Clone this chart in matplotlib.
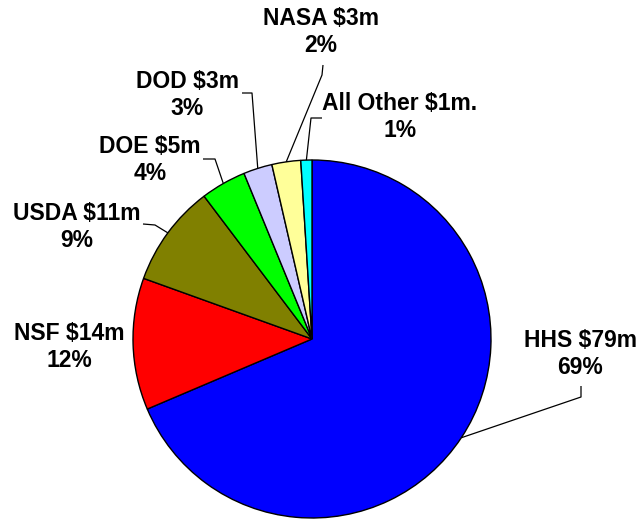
import numpy as np
import matplotlib
matplotlib.use("Agg")
import matplotlib.pyplot as plt

# Data (share of funding, %)
agencies = ["HHS", "NSF", "USDA", "DOE", "DOD", "NASA", "All Other"]
amounts = ["$79m", "$14m", "$11m", "$5m", "$3m", "$3m", "$1m."]
shares = [68.6, 11.9, 9.2, 4.1, 2.6, 2.6, 1.0]
pct_labels = ["69%", "12%", "9%", "4%", "3%", "2%", "1%"]
colors = ["#0000FF", "#FF0000", "#808000", "#00FF00", "#CCCCFF", "#FFFF99", "#00FFFF"]

W, H = 638, 520
fig = plt.figure(figsize=(W / 100, H / 100), dpi=100)
ax = fig.add_axes([0, 0, 1, 1])
ax.set_xlim(0, W)
ax.set_ylim(0, H)
ax.set_aspect("equal")
ax.axis("off")

cx, cy, R = 312, H - 339, 179
wedges, _ = ax.pie(shares, colors=colors, startangle=90, counterclock=False,
                   center=(cx, cy), radius=R, frame=True,
                   wedgeprops=dict(edgecolor="black", linewidth=1.0))
ax.set_xlim(0, W)
ax.set_ylim(0, H)
ax.axis("off")

# layout: text centre (img px), elbow points (img px) or None
layout = {
    "HHS": ((580, 354), [(581, 397), (581, 386)]),
    "NSF": ((69, 347), None),
    "USDA": ((77, 227), [(155, 225), (143, 224)]),
    "DOE": ((150, 160), [(215, 159), (203, 159)]),
    "DOD": ((187, 95), [(252, 93), (242, 93)]),
    "NASA": ((321, 32), [(322, 75), (323, 65)]),
    "All Other": ((400, 117), [(311, 118), (322, 118)]),
}

font = dict(family=["Liberation Sans", "DejaVu Sans"], fontsize=16.5, fontweight="bold")

for w, name, amt, pct in zip(wedges, agencies, amounts, pct_labels):
    (tx, ty), elbow = layout[name]
    ax.text(tx, H - ty, f"{name} {amt}\n{pct}", ha="center", va="center",
            linespacing=1.2, color="black", **font)
    if elbow:
        mid = np.deg2rad((w.theta1 + w.theta2) / 2)
        ex, ey = cx + R * np.cos(mid), cy + R * np.sin(mid)
        xs = [ex] + [p[0] for p in elbow]
        ys = [ey] + [H - p[1] for p in elbow]
        ax.plot(xs, ys, color="black", linewidth=0.9, solid_capstyle="butt")

fig.savefig("out.png", dpi=100)
